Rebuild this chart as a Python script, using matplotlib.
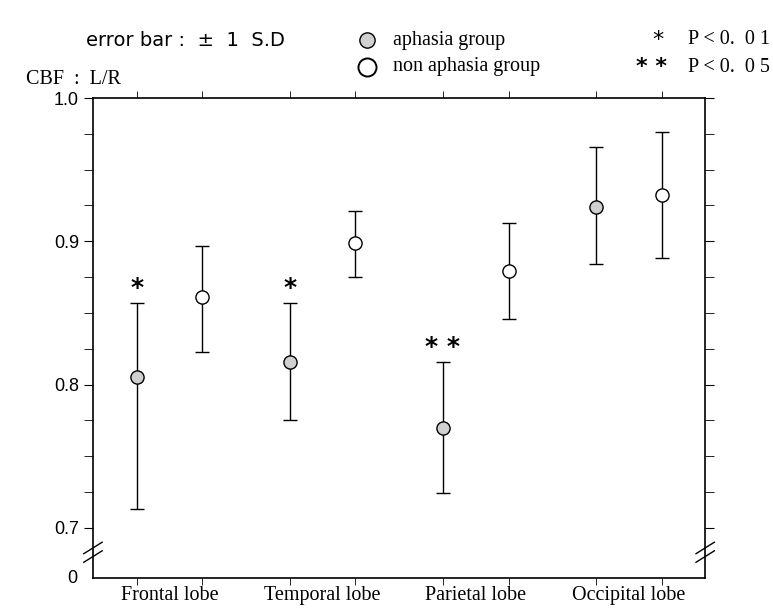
import numpy as np
import matplotlib
matplotlib.use("Agg")
import matplotlib.pyplot as plt
from matplotlib.lines import Line2D

# values (CBF ratio L/R, mean and error bar ends)
lobes = ["Frontal lobe", "Temporal lobe", "Parietal lobe", "Occipital lobe"]
aph_mean = [0.805, 0.816, 0.770, 0.924]
aph_lo = [0.092, 0.041, 0.046, 0.040]
aph_hi = [0.052, 0.041, 0.046, 0.042]
non_mean = [0.861, 0.899, 0.879, 0.932]
non_lo = [0.038, 0.024, 0.033, 0.044]
non_hi = [0.036, 0.022, 0.034, 0.044]
stars = ["*", "*", "* *", ""]

serif = "Liberation Serif"
sans = "Liberation Sans"

fig = plt.figure(figsize=(7.73, 6.08), dpi=100)
ax = fig.add_axes([0.1203, 0.0493, 0.792, 0.7895])

gx = np.arange(len(lobes)) + 0.5
xa = gx - 0.215
xn = gx + 0.215

ax.errorbar(xa, aph_mean, yerr=[aph_lo, aph_hi], fmt="none", ecolor="black",
            elinewidth=1.0, capsize=5, capthick=1.0)
ax.errorbar(xn, non_mean, yerr=[non_lo, non_hi], fmt="none", ecolor="black",
            elinewidth=1.0, capsize=5, capthick=1.0)
ax.plot(xa, aph_mean, "o", ms=9.5, mfc="#d0d0d0", mec="black", mew=1.0, zorder=3)
ax.plot(xn, non_mean, "o", ms=9.5, mfc="white", mec="black", mew=1.0, zorder=3)

for x, m, s, t in zip(xa, aph_mean, aph_hi, stars):
    if t:
        ax.text(x, m + s + 0.002, t, ha="center", va="bottom", fontsize=18,
                fontweight="bold", family="DejaVu Sans")

ax.set_xlim(0, 4)
ax.set_ylim(0.665, 1.0)

ax.set_xticks(gx)
ax.set_xticklabels(lobes, family=serif, fontsize=14.5)
ax.set_xticks(np.concatenate([xa, xn]), minor=True)
ax.tick_params(axis="x", which="major", length=0, pad=6)
ax.tick_params(axis="x", which="minor", length=5, direction="out", top=True)

ax.set_yticks([0.7, 0.8, 0.9, 1.0])
ax.set_yticklabels(["0.7", "0.8", "0.9", "1.0"], family=sans, fontsize=13)
ax.set_yticks(np.arange(0.7, 1.0, 0.025), minor=True)
ax.tick_params(axis="y", which="both", length=6.5, direction="out", right=True)

for sp in ax.spines.values():
    sp.set_linewidth(1.2)

ax.text(-0.1, 0.665, "0", ha="right", va="center", family=sans, fontsize=13)

# axis break marks on both sides
for xs in (0, 4):
    for dy in (-0.003, 0.003):
        ax.add_line(Line2D([xs - 0.06, xs + 0.06], [0.683 + dy - 0.004, 0.683 + dy + 0.004],
                           color="black", lw=1.0, clip_on=False))

# header
fig.text(86 / 773, 1 - 40 / 608, "error bar :  ±  1  S.D", family="DejaVu Sans",
         fontsize=14, va="center")
fig.text(26 / 773, 1 - 80 / 608, "CBF  :  L/R", family=serif, fontsize=14.5, va="center")

fig.add_artist(Line2D([367 / 773], [1 - 40 / 608], marker="o", ms=11, mfc="#d0d0d0",
                      mec="black", mew=1.0, transform=fig.transFigure))
fig.add_artist(Line2D([367 / 773], [1 - 67 / 608], marker="o", ms=13, mfc="white",
                      mec="black", mew=1.4, transform=fig.transFigure))
fig.text(393 / 773, 1 - 40 / 608, "aphasia group", family=serif, fontsize=14.5, va="center")
fig.text(393 / 773, 1 - 67 / 608, "non aphasia group", family=serif, fontsize=14.5, va="center")

fig.text(658 / 773, 1 - 40 / 608, "*", family="DejaVu Sans", fontsize=16, va="center",
         ha="center")
fig.text(652 / 773, 1 - 67 / 608, "* *", family="DejaVu Sans", fontsize=16, va="center",
         ha="center", fontweight="bold")
fig.text(688 / 773, 1 - 40 / 608, "P < 0.  0 1", family=serif, fontsize=14.5, va="center")
fig.text(688 / 773, 1 - 67 / 608, "P < 0.  0 5", family=serif, fontsize=14.5, va="center")

fig.savefig("out.png", dpi=100)
